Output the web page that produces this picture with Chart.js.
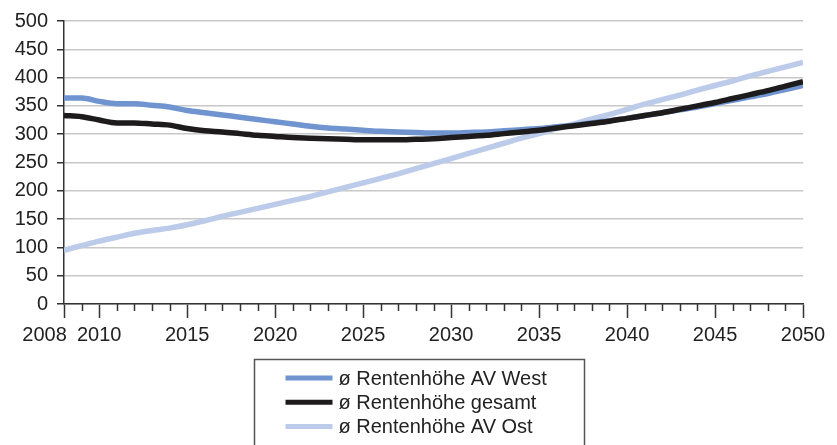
<!DOCTYPE html>
<html>
<head>
<meta charset="utf-8">
<script src="https://cdn.jsdelivr.net/npm/chart.js@4/dist/chart.umd.min.js"></script>
<style>
  html, body { margin: 0; padding: 0; background: #fff; }
</style>
</head>
<body>
<canvas id="myChart" width="837" height="445"></canvas>
<script>
const years = [2008, 2009, 2010, 2011, 2012, 2013, 2014, 2015, 2016, 2017,
               2018, 2019, 2020, 2021, 2022, 2023, 2024, 2025, 2026, 2027,
               2028, 2029, 2030, 2031, 2032, 2033, 2034, 2035, 2036, 2037,
               2038, 2039, 2040, 2041, 2042, 2043, 2044, 2045, 2046, 2047,
               2048, 2049, 2050]
const yearLabels = [2008, 2010, 2015, 2020, 2025, 2030, 2035, 2040, 2045, 2050]

const seriesNames = ['ø Rentenhöhe AV West', 'ø Rentenhöhe gesamt', 'ø Rentenhöhe AV Ost']

const west = [364, 364, 358, 354, 354, 351, 348, 342, 338, 334,
              330, 326, 322, 318, 314, 311, 309, 307, 305, 304,
              303, 302, 302, 303, 304, 306, 308, 310, 313, 316,
              320, 324, 328, 333, 338, 343, 348, 354, 360, 366,
              372, 379, 386]
const gesamt = [333, 331, 325, 320, 320, 318, 316, 310, 306, 304,
                301, 298, 296, 294, 293, 292, 291, 290, 290, 290,
                291, 292, 294, 296, 298, 301, 304, 307, 311, 315,
                319, 323, 328, 333, 338, 344, 350, 356, 363, 370,
                377, 385, 393]
const ost = [95, 103, 111, 118, 125, 130, 134, 140, 147, 155,
             162, 169, 176, 183, 190, 198, 206, 214, 222, 230,
             239, 248, 257, 266, 275, 284, 293, 301, 310, 318,
             327, 335, 344, 353, 361, 369, 378, 386, 394, 403,
             411, 419, 427]

const colors = ['#6f94cf', '#1e1b1c', '#bccbe9']
const axisColor = '#333333'
const fontFamily = '"Liberation Sans", Arial, sans-serif'

function toPoints(values) {
    let pts = []
    values.forEach((v, i) => {
        pts.push({x: years[i], y: v})
    })
    return pts
}

// small year ticks between the labelled ones
const minorTicks = {
    id: 'minorTicks',
    afterDraw(chart) {
        let ctx = chart.ctx
        let xs = chart.scales.x
        let bottom = chart.chartArea.bottom
        ctx.save()
        ctx.strokeStyle = axisColor
        ctx.lineWidth = 1.5
        years.forEach(y => {
            if (yearLabels.includes(y)) return
            let px = Math.round(xs.getPixelForValue(y)) + 0.5
            ctx.beginPath()
            ctx.moveTo(px, bottom)
            ctx.lineTo(px, bottom + 7)
            ctx.stroke()
        })
        ctx.restore()
    }
}

// boxed legend below the chart
const boxLegend = {
    id: 'boxLegend',
    afterDraw(chart) {
        let ctx = chart.ctx
        let w = 330
        let left = Math.round(chart.width / 2 - w / 2) + 0.5
        let top = 359.5
        ctx.save()
        ctx.strokeStyle = '#555555'
        ctx.lineWidth = 1.5
        ctx.strokeRect(left, top, w, 120)
        ctx.font = '20px ' + fontFamily
        ctx.textBaseline = 'middle'
        ctx.fillStyle = '#222222'
        chart.data.datasets.forEach((ds, i) => {
            let y = 378 + i * 24.3
            ctx.strokeStyle = ds.borderColor
            ctx.lineWidth = 5
            ctx.beginPath()
            ctx.moveTo(left + 31, y)
            ctx.lineTo(left + 78, y)
            ctx.stroke()
            ctx.fillText(ds.label, left + 84, y + 1)
        })
        ctx.restore()
    }
}

new Chart(document.getElementById('myChart'), {
    type: 'line',
    data: {
        datasets: [
            {label: seriesNames[0], data: toPoints(west), borderColor: colors[0], order: 1},
            {label: seriesNames[1], data: toPoints(gesamt), borderColor: colors[1], order: 0},
            {label: seriesNames[2], data: toPoints(ost), borderColor: colors[2], order: 2}
        ]
    },
    options: {
        responsive: false,
        animation: false,
        devicePixelRatio: 1,
        datasets: {
            line: {
                borderWidth: 5.5,
                pointRadius: 0,
                tension: 0.4,
                cubicInterpolationMode: 'monotone',
                fill: false
            }
        },
        layout: {padding: {top: 18, right: 34, left: 0, bottom: 0}},
        plugins: {
            legend: {display: false},
            tooltip: {enabled: false}
        },
        scales: {
            x: {
                type: 'linear',
                min: 2008,
                max: 2050,
                afterBuildTicks: scale => {
                    scale.ticks = yearLabels.map(v => ({value: v}))
                },
                afterFit: scale => { scale.height = 141 },
                grid: {
                    drawOnChartArea: false,
                    tickLength: 14,
                    tickColor: axisColor,
                    tickWidth: 1.5
                },
                border: {color: axisColor, width: 1.5},
                ticks: {
                    padding: 5,
                    maxRotation: 0,
                    autoSkip: false,
                    color: '#222222',
                    font: {family: fontFamily, size: 20},
                    // first label sits left of its tick so it clears 2010
                    callback: v => v == 2008 ? '2008       ' : String(v)
                }
            },
            y: {
                min: 0,
                max: 500,
                afterFit: scale => { scale.width = 64 },
                grid: {
                    color: '#c8c8c8',
                    lineWidth: 1.5,
                    tickLength: 7,
                    tickColor: axisColor,
                    tickWidth: 1.5
                },
                border: {color: axisColor, width: 1.5},
                ticks: {
                    stepSize: 50,
                    padding: 9,
                    color: '#222222',
                    font: {family: fontFamily, size: 20}
                }
            }
        }
    },
    plugins: [minorTicks, boxLegend]
})
</script>
</body>
</html>
